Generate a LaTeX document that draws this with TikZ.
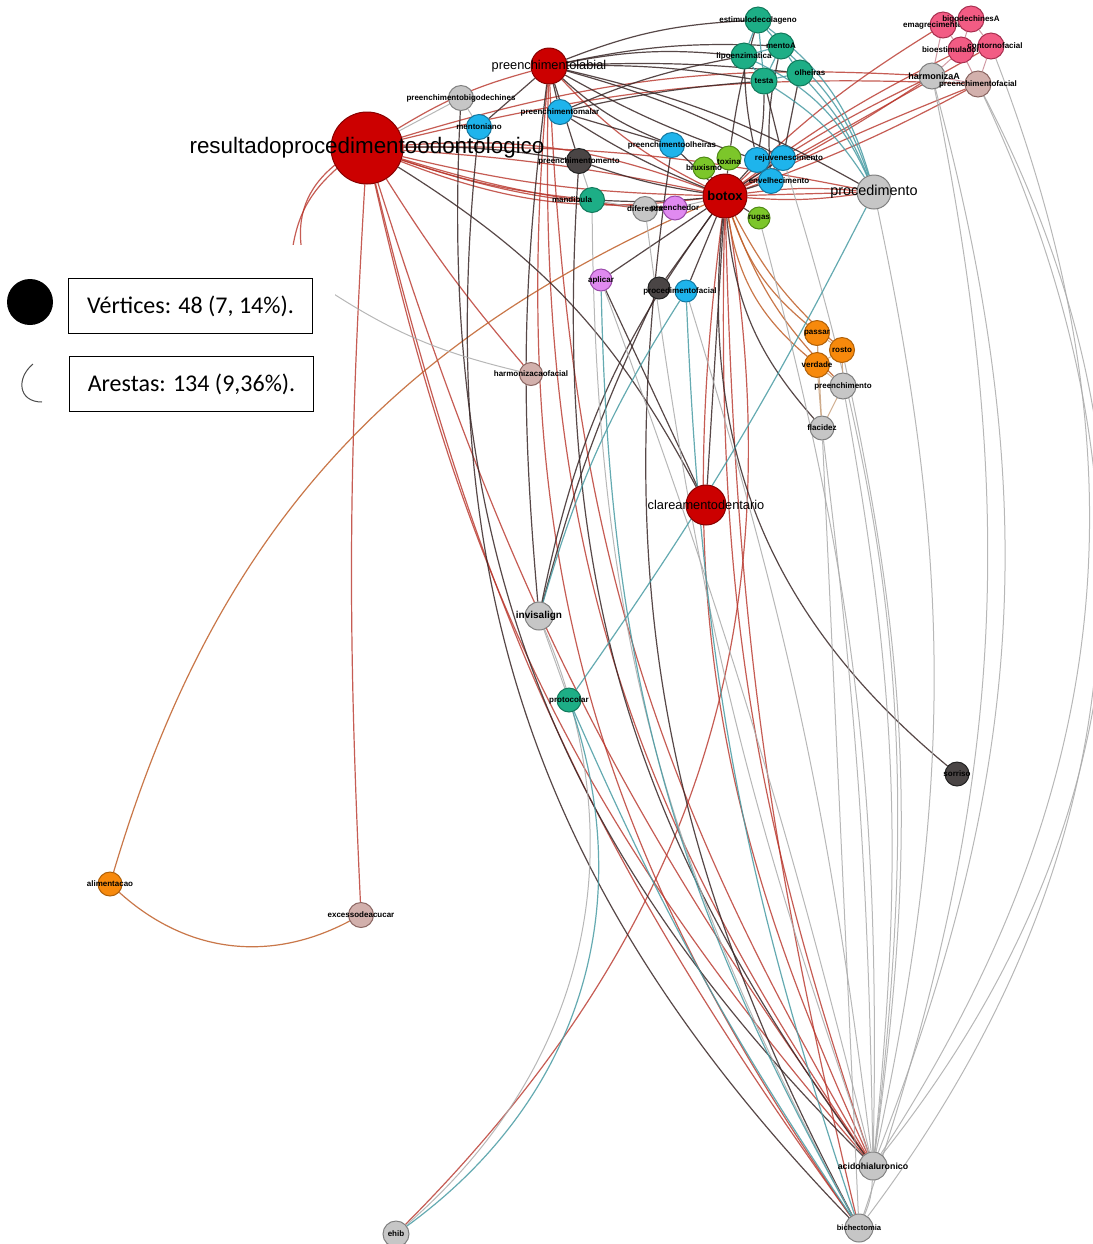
\documentclass[tikz,border=0pt]{standalone}
\usepackage{fontspec}
\setmainfont{Liberation Sans}
\newfontfamily\calib{Carlito}
\pgfdeclarelayer{bg}
\pgfdeclarelayer{edges}
\pgfdeclarelayer{mask}
\pgfsetlayers{bg,edges,mask,main}
\definecolor{redF}{HTML}{CC0000}\definecolor{redD}{HTML}{880000}
\definecolor{greyF}{HTML}{C6C6C6}\definecolor{greyD}{HTML}{808080}
\definecolor{tealF}{HTML}{1DAE86}\definecolor{tealD}{HTML}{127A5C}
\definecolor{blueF}{HTML}{1EB4EC}\definecolor{blueD}{HTML}{1478A0}
\definecolor{greenF}{HTML}{7CC62A}\definecolor{greenD}{HTML}{4E8A14}
\definecolor{pinkF}{HTML}{F25C84}\definecolor{pinkD}{HTML}{A83050}
\definecolor{orangeF}{HTML}{F7890C}\definecolor{orangeD}{HTML}{B06008}
\definecolor{rosyF}{HTML}{D2B0AC}\definecolor{rosyD}{HTML}{8A6662}
\definecolor{violetF}{HTML}{E08AF0}\definecolor{violetD}{HTML}{9A4AAA}
\definecolor{darkF}{HTML}{4A4545}\definecolor{darkD}{HTML}{222222}
\definecolor{eRed}{HTML}{B8342A}\definecolor{eDark}{HTML}{3A2828}
\definecolor{eTeal}{HTML}{4A9CA4}\definecolor{eGrey}{HTML}{ABABAB}
\definecolor{eBrown}{HTML}{C0602A}\definecolor{eLight}{HTML}{C9A27E}
\definecolor{ePink}{HTML}{C98A96}
\tikzset{
  vbase/.style={circle,inner sep=0pt,line width=0.25pt},
  nred/.style={vbase,draw=redD,fill=redF},
  ngrey/.style={vbase,draw=greyD,fill=greyF},
  nteal/.style={vbase,draw=tealD,fill=tealF},
  nblue/.style={vbase,draw=blueD,fill=blueF},
  ngreen/.style={vbase,draw=greenD,fill=greenF},
  npink/.style={vbase,draw=pinkD,fill=pinkF},
  norange/.style={vbase,draw=orangeD,fill=orangeF},
  nrosy/.style={vbase,draw=rosyD,fill=rosyF},
  nviolet/.style={vbase,draw=violetD,fill=violetF},
  ndark/.style={vbase,draw=darkD,fill=darkF},
  lab/.style={font=\fontsize{2}{2}\selectfont\bfseries,inner sep=0pt,text=black},
  labm/.style={font=\fontsize{3.2}{3.2}\selectfont,inner sep=0pt,text=black},
  er/.style={draw=eRed,line width=0.3pt,opacity=0.8},
  ed/.style={draw=eDark,line width=0.3pt,opacity=0.85},
  et/.style={draw=eTeal,line width=0.3pt,opacity=0.85},
  eg/.style={draw=eGrey,line width=0.25pt,opacity=0.85},
  eo/.style={draw=eBrown,line width=0.3pt,opacity=0.85},
  el/.style={draw=eLight,line width=0.25pt,opacity=0.85},
  ep/.style={draw=ePink,line width=0.25pt,opacity=0.85},
  legbox/.style={draw=black,line width=0.3pt,minimum width=61pt,minimum height=13.75pt,inner sep=0pt,font=\calib\fontsize{6}{6.5}\selectfont}
}
\begin{document}
\begin{tikzpicture}[x=0.25pt,y=-0.25pt]
\useasboundingbox (0,0) rectangle (1093,1244);
\begin{pgfonlayer}{bg}
\fill[white] (0,0) rectangle (1093,1244);
\end{pgfonlayer}
% ---------------- nodes ----------------
\node[nred,minimum size=18pt,label={[font=\fontsize{5.6}{5.6}\selectfont,inner sep=0pt]center:resultadoprocedimentoodontologico}] (R) at (367,148) {};
\node[nred,minimum size=9pt,label={[labm]center:preenchimentolabial}] (PL) at (549,66) {};
\node[nred,minimum size=11pt,label={[font=\fontsize{3.25}{3.25}\selectfont\bfseries,inner sep=0pt]center:botox}] (BX) at (725,196) {};
\node[nred,minimum size=10pt,label={[labm]center:clareamentodentario}] (CD) at (706,505) {};
\node[ngrey,minimum size=8.5pt,label={[font=\fontsize{3.6}{3.6}\selectfont,inner sep=0pt]center:procedimento}] (PR) at (874,192) {};
\node[ngrey,minimum size=6.25pt,label={[lab]center:preenchimentobigodechines}] (PB) at (461,98) {};
\node[nblue,minimum size=6.25pt,label={[lab]center:mentoniano}] (B1) at (479,127) {};
\node[nblue,minimum size=6.25pt,label={[lab]center:preenchimentomalar}] (B2) at (560,112) {};
\node[ndark,minimum size=6.25pt,label={[lab]center:preenchimentomento}] (DK1) at (579,161) {};
\node[nteal,minimum size=6.25pt,label={[lab,xshift=-5pt]center:mandibula}] (T1) at (592,200) {};
\node[ngrey,minimum size=6.25pt,label={[lab]center:diferenca}] (G1) at (645,209) {};
\node[nviolet,minimum size=6pt,label={[lab]center:preenchedor}] (V1) at (675,208) {};
\node[nblue,minimum size=6.25pt,label={[lab]center:preenchimentoolheiras}] (B3) at (672,145) {};
\node[ngreen,minimum size=6pt,label={[lab,yshift=-1pt]center:toxina}] (GR1) at (729,158) {};
\node[ngreen,minimum size=5.5pt,label={[lab]center:bruxismo}] (GR2) at (704,168) {};
\node[nblue,minimum size=6.25pt] (B4) at (757,160) {};
\node[nblue,minimum size=6.25pt,label={[lab,xshift=1.5pt]center:rejuvenescimento}] (B5) at (783,158) {};
\node[nblue,minimum size=6.25pt,label={[lab,xshift=2pt]center:envelhecimento}] (B6) at (771,181) {};
\node[ngreen,minimum size=5.5pt,label={[lab]center:rugas}] (GR3) at (759,218) {};
\node[nteal,minimum size=6.5pt,label={[lab]center:estimulodecolageno}] (TC1) at (758,20) {};
\node[nteal,minimum size=6.5pt,label={[lab]center:lipoenzimatica}] (TC2) at (744,56) {};
\node[nteal,minimum size=6.5pt,label={[lab]center:mentoA}] (TC3) at (781,46) {};
\node[nteal,minimum size=6.5pt,label={[lab]center:testa}] (TC4) at (764,81) {};
\node[nteal,minimum size=6.5pt,label={[lab,xshift=2.5pt]center:olheiras}] (TC5) at (800,73) {};
\node[npink,minimum size=6.5pt,label={[lab]center:emagrecimentofacial}] (PK1) at (943,25) {};
\node[npink,minimum size=6.5pt,label={[lab]center:bigodechinesA}] (PK2) at (971,19) {};
\node[npink,minimum size=6.5pt,label={[lab]center:bioestimuladorfacial}] (PK3) at (961,50) {};
\node[npink,minimum size=6.5pt,label={[lab,xshift=1pt]center:contornofacial}] (PK4) at (991,46) {};
\node[ngrey,minimum size=6.5pt,label={[font=\fontsize{2.25}{2.25}\selectfont\bfseries,inner sep=0pt,xshift=0.5pt]center:harmonizaA}] (HA) at (932,76) {};
\node[nrosy,minimum size=6.5pt,label={[lab]center:preenchimentofacial}] (PF) at (978,84) {};
\node[nviolet,minimum size=5.5pt,label={[lab]center:aplicar}] (VI2) at (601,280) {};
\node[ndark,minimum size=5.5pt] (DK2) at (659,288) {};
\node[nblue,minimum size=5.5pt,label={[lab,xshift=-1.5pt]center:procedimentofacial}] (B7) at (686,291) {};
\node[nrosy,minimum size=5.75pt,label={[lab]center:harmonizacaofacial}] (HF) at (531,374) {};
\node[norange,minimum size=6.25pt,label={[lab]center:passar}] (O1) at (817,333) {};
\node[norange,minimum size=6.25pt,label={[lab]center:rosto}] (O2) at (842,350) {};
\node[norange,minimum size=6.25pt,label={[lab]center:verdade}] (O3) at (817,365) {};
\node[ngrey,minimum size=6.5pt,label={[lab]center:preenchimento}] (PC) at (843,386) {};
\node[ngrey,minimum size=6pt,label={[lab]center:flacidez}] (FL) at (822,428) {};
\node[ngrey,minimum size=7pt,label={[font=\fontsize{2.5}{2.5}\selectfont\bfseries,inner sep=0pt]center:invisalign}] (IN) at (539,616) {};
\node[nteal,minimum size=6pt,label={[lab]center:protocolar}] (T2) at (569,700) {};
\node[ndark,minimum size=6pt,label={[lab]center:sorriso}] (DK3) at (957,774) {};
\node[norange,minimum size=6pt,label={[lab]center:alimentacao}] (AL) at (110,884) {};
\node[nrosy,minimum size=6.25pt,label={[lab]center:excessodeacucar}] (EA) at (361,915) {};
\node[ngrey,minimum size=7pt,label={[font=\fontsize{2.2}{2.2}\selectfont\bfseries,inner sep=0pt]center:acidohialuronico}] (AH) at (873,1166) {};
\node[ngrey,minimum size=7pt,label={[font=\fontsize{1.9}{1.9}\selectfont\bfseries,inner sep=0pt]center:bichectomia}] (BI) at (859,1228) {};
\node[ngrey,minimum size=6.5pt,label={[lab]center:ehib}] (EH) at (396,1234) {};
\coordinate (c1) at (292,252);
\coordinate (c2) at (302,252);
\coordinate (c3) at (320,285);
% ---------------- edges ----------------
\begin{pgfonlayer}{edges}
\foreach \a/\b/\k in {R/BX/-6,R/BX/4,R/BX/12,R/BX/-14,R/PL/8,R/PR/6,R/HA/10,R/PF/8,R/HF/-4,R/EA/-3,R/AH/-14,R/BI/-11,R/AH/-9,R/c1/-20,R/c2/-30,R/G1/-5,R/V1/-8,R/T1/-6,
  BX/PR/0,BX/PR/6,BX/PR/-6,BX/HA/4,BX/HA/-3,BX/PF/2,BX/PF/-4,BX/PK3/5,BX/PK1/6,BX/PK4/0,BX/AH/-10,BX/BI/-6,BX/AH/-16,EH/BX/-27,
  PL/AH/-18,PL/BI/-20,PL/AH/-14,PL/BX/-10}
  \draw[er] (\a) to[bend left=\k] (\b);
\foreach \a/\b/\k in {BX/O1/-15,BX/O3/-20,BX/O2/-10,BX/PC/-12,AL/BX/25,AL/EA/-35}
  \draw[eo] (\a) to[bend left=\k] (\b);
\foreach \a/\b/\k in {R/CD/15,BX/CD/0,BX/DK3/-28,BX/IN/-12,PL/IN/-6,PL/TC1/9,PL/TC2/8,PL/TC3/7,PL/TC4/5,PL/TC5/4,B2/TC2/6,B2/TC4/4,PL/PR/8,
  DK1/AH/-20,B1/BI/-25,PB/AH/-24,B3/BI/-18,BX/VI2/0,BX/DK2/0,BX/B7/0,R/DK1/5,PL/B2/0,PL/B1/0,PL/DK1/0,TC2/B4/-5,TC4/B5/0,TC4/B4/5,TC5/B5/0,TC3/B6/-8,TC1/GR1/-4,
  B2/BX/-5,B3/BX/0,DK1/BX/-5,T1/BX/-4,PL/B3/-10,PL/B4/-5,PL/B5/6,DK2/IN/-5,VI2/CD/0,B2/B3/0,BX/FL/-18,BX/GR1/0,BX/GR2/0,BX/GR3/0,BX/B4/0,BX/B5/0,BX/B6/0}
  \draw[ed] (\a) to[bend left=\k] (\b);
\foreach \a/\b/\k in {R/PB/0,PB/B1/0,DK1/T1/0,T1/G1/0,G1/V1/0,V1/BX/0,IN/T2/0,PF/AH/33,PF/BI/31,PK4/AH/27,PR/AH/12,HA/AH/18,HA/BI/15,PC/AH/8,FL/AH/3,FL/BI/0,
  B7/AH/5,VI2/AH/3,IN/EH/36,T1/BI/-14,G1/AH/-6,c3/HF/-10,AH/BI/10,O2/AH/10,B5/AH/12,GR3/AH/8}
  \draw[eg] (\a) to[bend left=\k] (\b);
\foreach \a/\b/\k in {TC1/PR/18,TC3/PR/14,TC5/PR/10,TC2/PR/20,TC4/PR/12,PR/T2/4,B7/IN/-8,B7/BI/-8,VI2/BI/-14,T2/BI/-5,T2/EH/36,
  TC1/TC2/0,TC1/TC3/0,TC1/TC4/0,TC2/TC4/0,TC3/TC4/0,TC3/TC5/0,TC4/TC5/0,TC2/TC3/0}
  \draw[et] (\a) to[bend left=\k] (\b);
\foreach \a/\b in {O1/O2,O1/O3,O2/O3,O2/PC,O3/PC,PC/FL,O1/FL,O3/FL}
  \draw[el] (\a) -- (\b);
\foreach \a/\b in {PK1/PK2,PK1/PK3,PK2/PK4,PK3/PK4,PK2/PK3,PK1/HA,PK3/HA,PK3/PF,PK4/PF,HA/PF}
  \draw[ep] (\a) -- (\b);
\end{pgfonlayer}
\begin{pgfonlayer}{mask}
\fill[white] (0,245) rectangle (335,420);
\end{pgfonlayer}
% ---------------- legend ----------------
\node[circle,fill=black,minimum size=11.5pt,inner sep=0pt] (legdot) at (30,302) {};
\node[legbox] (leg1) at (190.5,306) {Vértices: 48 (7, 14\%).};
\node[legbox] (leg2) at (191.5,384) {Arestas: 134 (9,36\%).};
\coordinate (arcA) at (33,364);
\coordinate (arcB) at (42,402);
\draw[black!70,line width=0.25pt] (arcA) .. controls (16,378) and (18,402) .. (arcB);
\end{tikzpicture}
\end{document}
